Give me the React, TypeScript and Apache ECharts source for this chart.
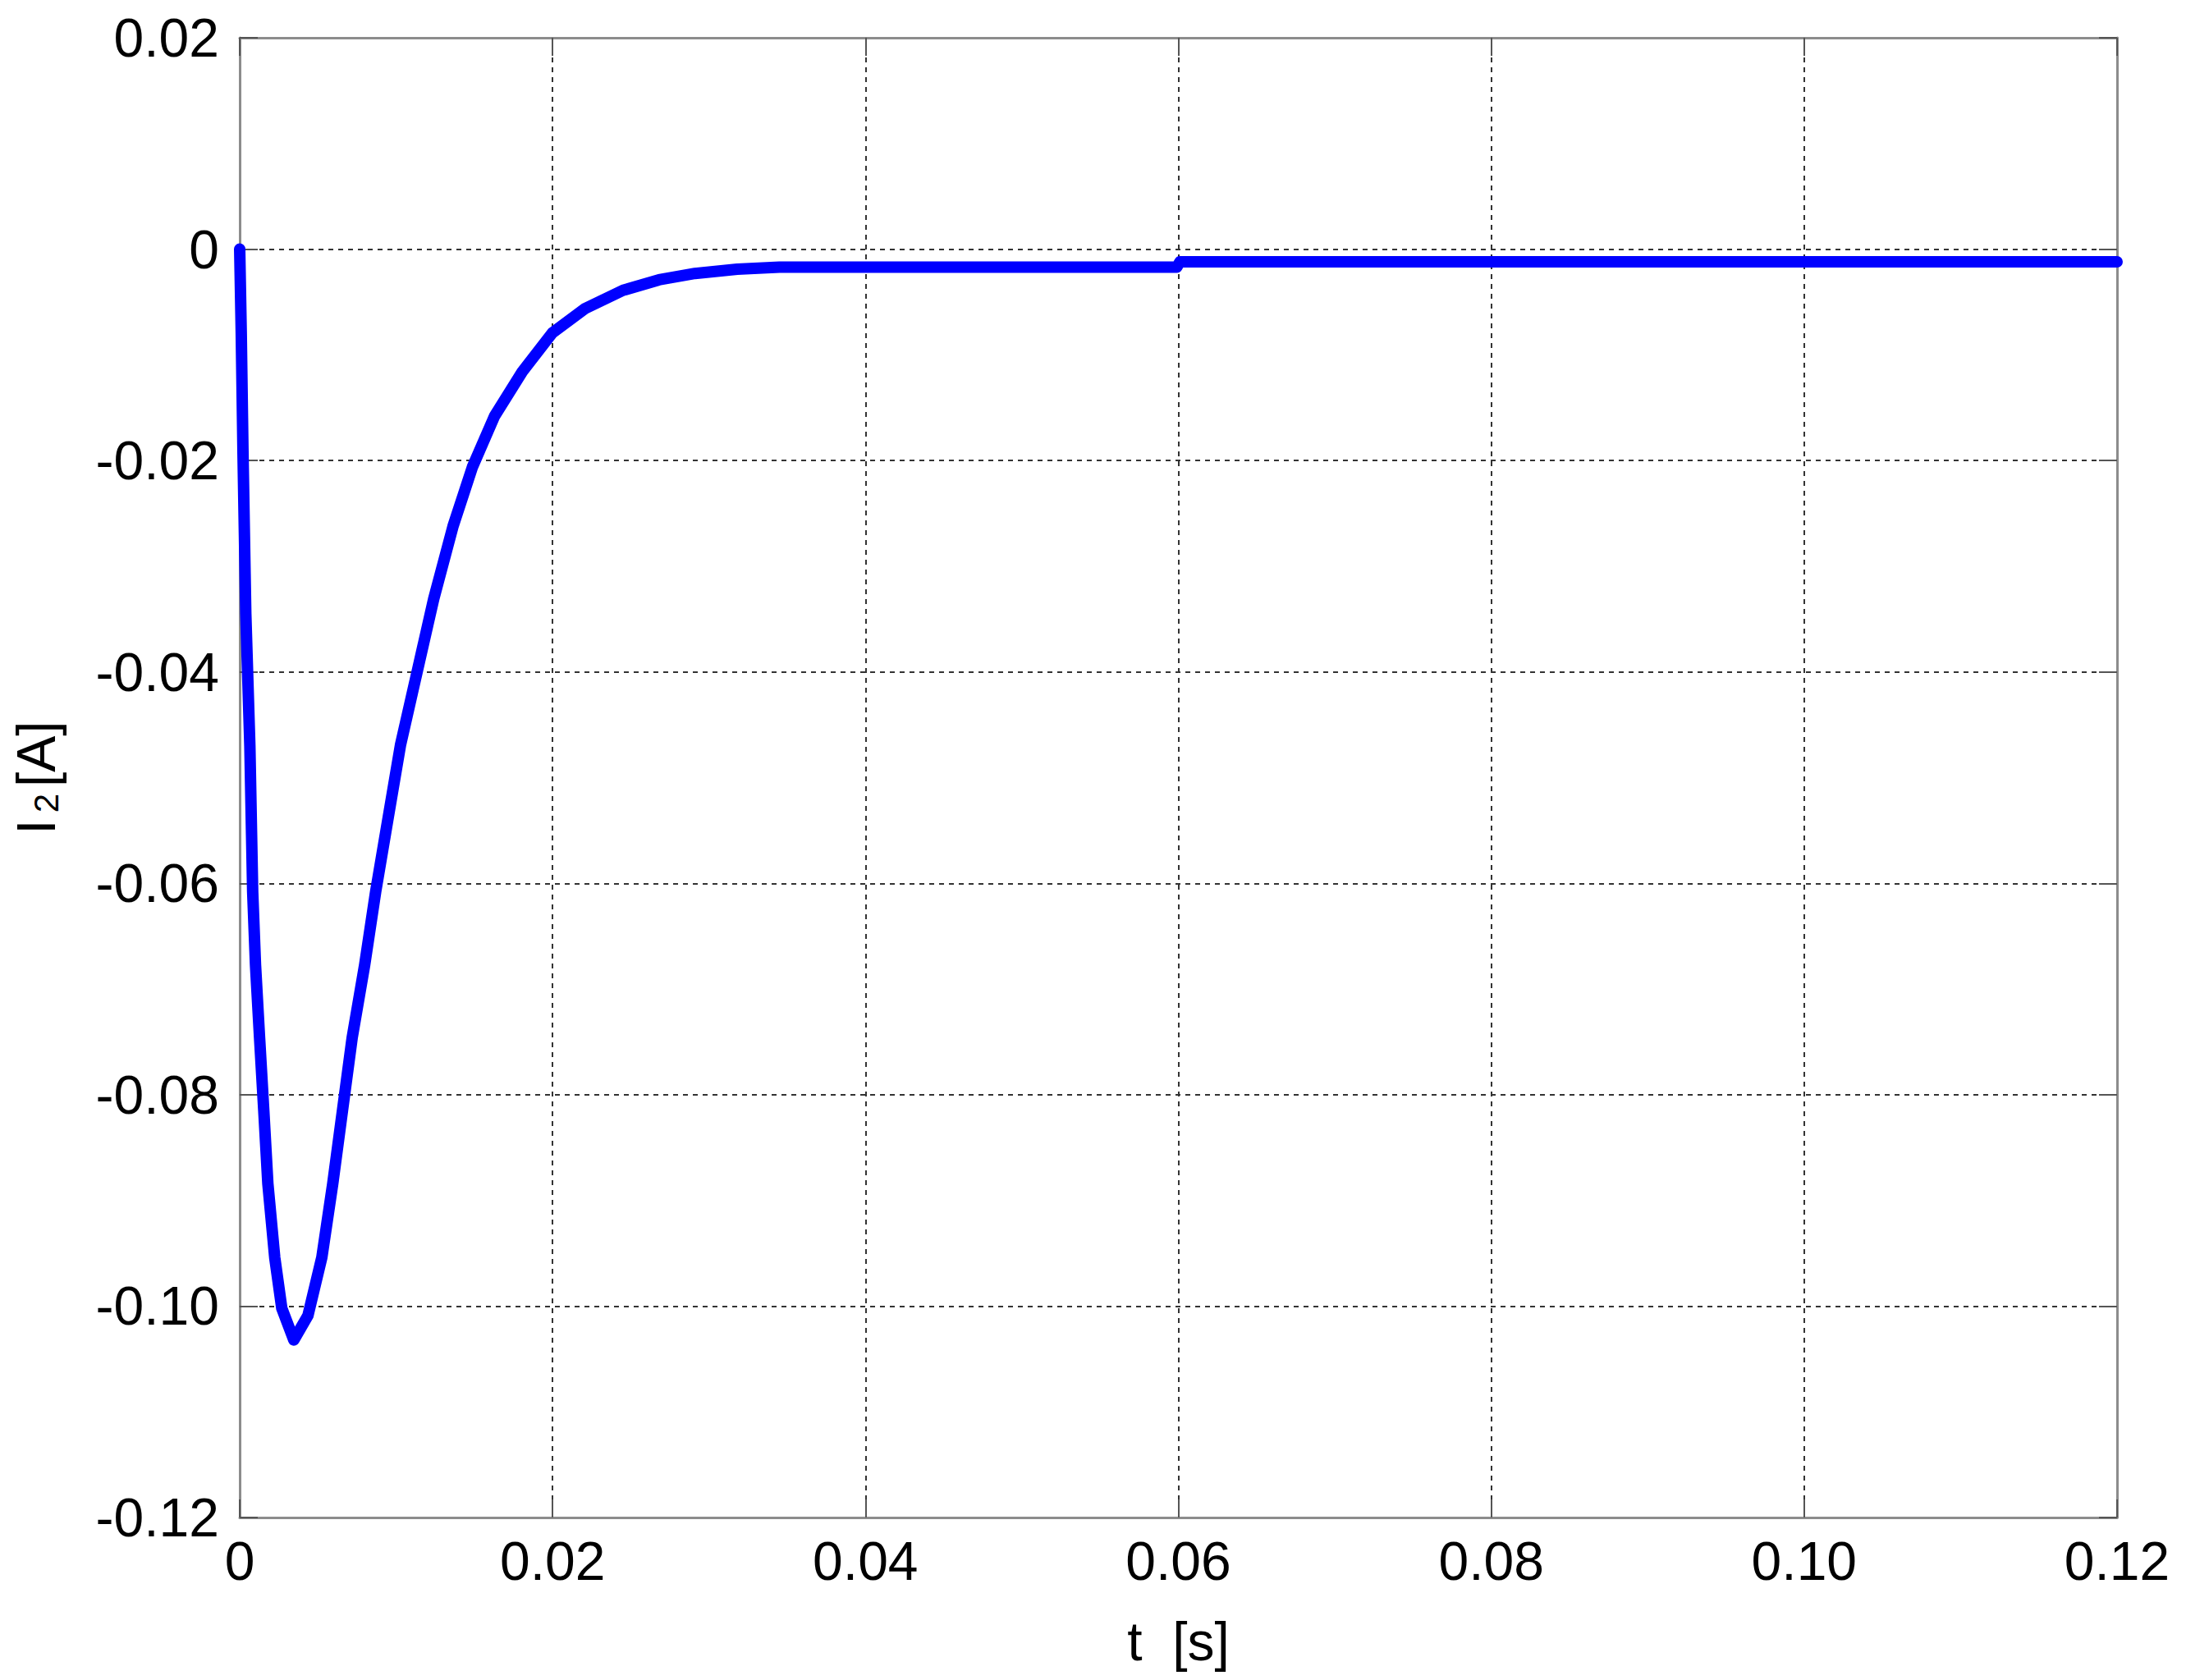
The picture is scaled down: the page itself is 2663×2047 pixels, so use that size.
import React, { useEffect, useRef } from "react";
import * as echarts from "echarts";

const timeValues = [
  0, 0.0001, 0.00021, 0.00039, 0.00065, 0.00083, 0.00101, 0.00127, 0.00154, 0.0018,
  0.00224, 0.00269, 0.00346, 0.00436, 0.00525, 0.00595, 0.00657, 0.00719, 0.00799,
  0.00869, 0.00949, 0.01028, 0.01134, 0.0124, 0.01364, 0.01488, 0.01629, 0.01806,
  0.02, 0.0221, 0.0245, 0.0268, 0.0291, 0.0318, 0.0345, 0.0599, 0.0601, 0.12,
];
const currentValues = [
  0, -0.008, -0.0192, -0.0345, -0.047, -0.0608, -0.0677, -0.0746, -0.0815, -0.0884,
  -0.0954, -0.1002, -0.1032, -0.1009, -0.0954, -0.0884, -0.0815, -0.0746, -0.0677,
  -0.0608, -0.0538, -0.0469, -0.04, -0.0331, -0.0262, -0.0206, -0.0158, -0.0116,
  -0.0079, -0.0056, -0.0039, -0.0029, -0.0023, -0.0019, -0.0017, -0.0017, -0.0012, -0.0012,
];
const xTicks = { min: 0, max: 0.12, interval: 0.02 };
const yTicks = { min: -0.12, max: 0.02, interval: 0.02 };
const xAxisTitle = "t  [s]";
const yAxisTitle = "{i|I}{s|2}{i|[A]}";

const FONT = "'Liberation Sans', Arial, Helvetica, sans-serif";

const fmt = (v: number) => (Math.abs(v) < 1e-9 ? "0" : v.toFixed(2));

export default function App() {
  const ref = useRef<HTMLDivElement>(null);
  useEffect(() => {
    if (!ref.current) return;
    const chart = echarts.init(ref.current, undefined, { renderer: "svg" });
    const frame = { show: true, onZero: false, lineStyle: { color: "#8c8c8c", width: 3 } };
    const tick = { show: true, inside: true, length: 22, lineStyle: { color: "#555", width: 2 } };
    const grid = { show: true, lineStyle: { type: [6, 6], color: "#333", width: 2 } };
    chart.setOption({
      animation: false,
      backgroundColor: "#fff",
      grid: { left: 292, right: 84, top: 46, bottom: 198, containLabel: false },
      xAxis: [
        {
          type: "value",
          ...xTicks,
          position: "bottom",
          axisLine: frame,
          axisTick: tick,
          splitLine: grid,
          axisLabel: { formatter: fmt, fontSize: 66, color: "#000", fontFamily: FONT, margin: 20 },
          name: xAxisTitle,
          nameLocation: "middle",
          nameGap: 118,
          nameTextStyle: { fontSize: 66, color: "#000", fontFamily: FONT },
        },
        {
          type: "value",
          ...xTicks,
          position: "top",
          axisLine: frame,
          axisTick: tick,
          splitLine: { show: false },
          axisLabel: { show: false },
        },
      ],
      yAxis: [
        {
          type: "value",
          ...yTicks,
          position: "left",
          axisLine: frame,
          axisTick: tick,
          splitLine: grid,
          axisLabel: { formatter: fmt, fontSize: 66, color: "#000", fontFamily: FONT, margin: 25 },
          name: yAxisTitle,
          nameLocation: "middle",
          nameRotate: 90,
          nameGap: 215,
          nameTextStyle: {
            color: "#000",
            fontFamily: FONT,
            rich: {
              i: { fontSize: 66, color: "#000", fontFamily: FONT, verticalAlign: "bottom" },
              s: {
                fontSize: 42,
                color: "#000",
                fontFamily: FONT,
                verticalAlign: "bottom",
                padding: [0, 8, 0, 8],
              },
            },
          },
        },
        {
          type: "value",
          ...yTicks,
          position: "right",
          axisLine: frame,
          axisTick: tick,
          splitLine: { show: false },
          axisLabel: { show: false },
        },
      ],
      series: [
        {
          type: "line",
          xAxisIndex: 0,
          yAxisIndex: 0,
          data: timeValues.map((t, i) => [t, currentValues[i]]),
          showSymbol: false,
          lineStyle: { color: "#0000ff", width: 14, join: "round", cap: "round" },
          itemStyle: { color: "#0000ff" },
        },
      ],
    });
    return () => chart.dispose();
  }, []);
  return (
    <div
      ref={ref}
      style={{ position: "fixed", left: 0, top: 0, width: 2663, height: 2047, background: "#fff" }}
    />
  );
}
